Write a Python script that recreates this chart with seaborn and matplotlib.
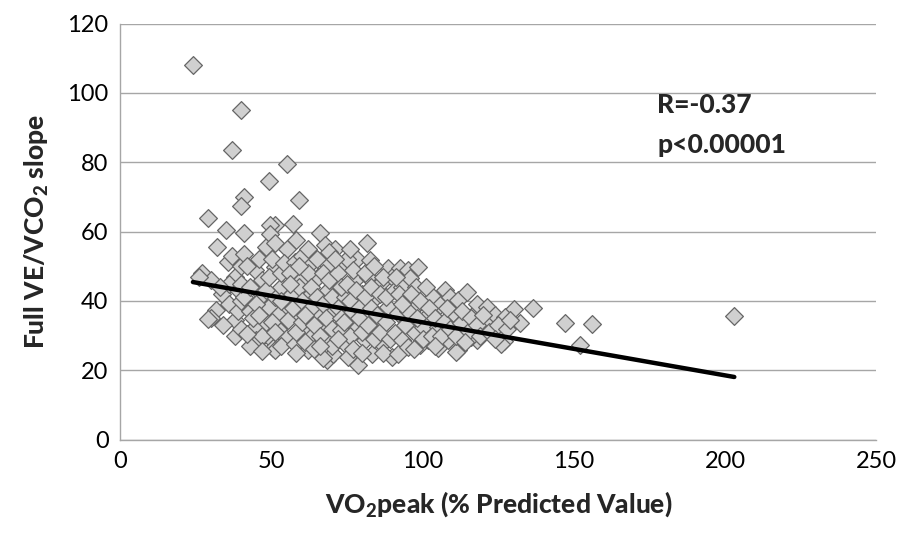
import numpy as np
import pandas as pd
import matplotlib
matplotlib.use("Agg")
import matplotlib.pyplot as plt
import seaborn as sns

# values
vo2_peak = [
    24, 40, 37, 55, 49, 41, 40, 59, 29, 57, 51, 35, 41, 66, 58, 81.5, 32, 203, 147, 156,
    152, 136.5, 130, 132, 127, 126, 123.5, 117.8,
    27, 30, 26, 31.5, 30, 29, 33.5, 35.5, 36, 38, 38, 38, 36, 33, 37, 40, 39, 34, 39, 40, 40,
    41, 41, 40, 43, 44.5, 44.5, 45, 45.5, 46.7, 46.7, 48, 49, 49.5, 49.5, 50, 50.5, 51, 51,
    51, 51, 53, 54.4, 54.4, 42, 43, 44, 46, 47, 48, 48, 49, 50, 52, 52, 53, 53, 55, 54, 43,
    47, 42, 45, 50, 51, 46, 53,
    55.5, 56.6, 57.7, 57.7, 58.8, 59.9, 61, 62, 62, 63.2, 63.2, 65.4, 65.4, 67.6, 67.6, 68.2,
    68.7, 68.7, 68.7, 70.9, 70.9, 70.9, 70.4, 67, 56, 57, 58, 59, 60, 60, 60, 61, 62, 63, 63,
    64, 64, 65, 65, 66, 67, 67, 68, 69, 69, 70, 70, 70, 56, 58, 62, 66, 59, 61,
    74.2, 74.2, 74.2, 73.1, 75.3, 76.5, 77.5, 78.1, 78.6, 78.6, 79.8, 80.8, 81.9, 81.9, 82.5,
    83.1, 84.2, 85.3, 86.4, 86.4, 88.6, 88.6, 89.7, 89.7, 72, 72, 73, 73, 75, 75, 76, 76, 77,
    77, 78, 79, 79, 80, 80, 81, 81, 82, 83, 83, 84, 84, 85, 86, 86, 87, 87, 88, 88, 89, 71,
    72, 74, 76,
    90.8, 90.8, 92.4, 93, 91.9, 93, 91.9, 94, 95.2, 95.7, 95.2, 96.3, 97.4, 97.9, 97.4, 98.5,
    99, 100, 101.8, 101.8, 103.4, 105.1, 105.1, 105.6, 107.3, 108.4, 109, 110, 92, 94, 95, 96,
    98, 99, 100, 102, 103, 104, 106, 107, 108, 109, 91, 93, 97, 101, 104,
    111.7, 111.7, 112.8, 114.5, 116.1, 117.2, 117.8, 120, 121.6, 121.1, 123.8, 123.8, 127.2,
    111, 113, 115, 116, 118, 119, 122, 125, 128, 111, 114, 120, 124, 129,
]
ve_vco2_slope = [
    108, 95, 83.5, 79.5, 74.5, 70, 67.5, 69, 64, 62.3, 62, 60.4, 59.5, 59.5, 57.7, 56.6, 55.5,
    35.7, 33.6, 33.3, 27.2, 37.9, 37.8, 33.5, 28.5, 27.7, 29.6, 28.7,
    48, 46, 47, 37.5, 35, 34.8, 42, 51.3, 39, 34.5, 30, 47, 45, 44, 53, 50, 43, 33, 37, 40, 32,
    53.5, 41, 45, 37, 48.9, 32.5, 28.7, 28.5, 46, 41.6, 55.5, 38.3, 61.8, 59.4, 28.7, 26.3,
    56.6, 49.8, 41.2, 25.8, 44, 37.3, 29.6, 50, 44, 35, 52, 30, 43, 34, 47, 52, 36, 32, 48,
    40, 55, 51, 27, 25.5, 30.5, 39, 34, 31, 36, 27,
    34.4, 42, 51.3, 27.7, 36.4, 46, 31.5, 41.2, 25.8, 50.8, 29.6, 46.9, 36.4, 56, 32.5, 23,
    50.3, 43, 28.7, 55, 45, 37.3, 24.8, 23.4, 48, 38, 31, 44, 53, 40, 34, 28, 48, 44, 38,
    33, 26, 52, 41, 30, 48, 39, 35, 54, 46, 41, 32, 27, 45, 25, 55, 27, 50, 36,
    50.3, 41.2, 27.7, 31.5, 23.8, 36.8, 46, 52.2, 32.5, 21.5, 42.1, 28.7, 46.9, 36.4, 51.7,
    24.8, 40.7, 32.5, 45.5, 27.7, 49.4, 38.3, 46.9, 23.8, 48, 38, 44, 35, 52, 45, 40, 30, 26,
    49, 43, 38, 35, 31, 25, 48, 41, 33, 44, 38, 29, 50, 36, 42, 31, 25, 47, 34, 41, 29, 52,
    29, 34, 55,
    43, 30.6, 49.4, 44, 36.4, 28.7, 24.8, 40.2, 48.9, 46.5, 26.7, 34.4, 38.3, 44, 30.6, 49.8,
    27.2, 32.5, 35.9, 28.7, 41.2, 32.5, 26.3, 38.8, 43, 28.7, 41.2, 36.4, 42, 33, 37, 42,
    35, 40, 29, 38, 30, 35, 30, 34, 38, 32, 47, 39, 26, 44, 27,
    40.2, 25.8, 33.5, 42.6, 29.6, 36.4, 39.2, 32.5, 34.4, 38.3, 35.9, 30.6, 35.4,
    25.3, 37, 31, 35, 33, 30, 31, 33, 32, 30, 28, 36, 29, 34.5,
]

# regression line
fit_intercept = 49.1
fit_slope = -0.153
r_text = "R=-0.37"
p_text = "p<0.00001"

x_ticks = [0, 50, 100, 150, 200, 250]
y_ticks = [0, 20, 40, 60, 80, 100, 120]

df = pd.DataFrame({"vo2": vo2_peak, "slope": ve_vco2_slope})
fit_x = np.array([df["vo2"].min(), df["vo2"].max()])
fit_df = pd.DataFrame({"vo2": fit_x, "slope": fit_intercept + fit_slope * fit_x})

sns.set_style("white")
plt.rcParams["font.family"] = ["Lato", "DejaVu Sans"]
plt.rcParams["mathtext.fontset"] = "custom"
plt.rcParams["mathtext.rm"] = "Lato"
plt.rcParams["mathtext.bf"] = "Lato:black"

fig = plt.figure(figsize=(8.98, 5.36), dpi=100)
ax = fig.add_axes([0.134, 0.18, 0.842, 0.776])

ax.yaxis.grid(True, color="#a6a6a6", linewidth=1.0)
ax.set_axisbelow(True)

sns.scatterplot(data=df, x="vo2", y="slope", ax=ax, marker="D", s=82,
                color="#d0d0d0", edgecolor="#666666", linewidth=0.9, zorder=2)
sns.lineplot(data=fit_df, x="vo2", y="slope", ax=ax, color="black",
             linewidth=3.2, zorder=3)

ax.set_xlim(0, 250)
ax.set_ylim(0, 120)
ax.set_xticks(x_ticks)
ax.set_yticks(y_ticks)
ax.tick_params(axis="both", labelsize=17, colors="#a6a6a6", labelcolor="black",
               length=5, width=1, direction="out")

for side in ["top", "right"]:
    ax.spines[side].set_visible(False)
for side in ["left", "bottom"]:
    ax.spines[side].set_color("#a6a6a6")
    ax.spines[side].set_linewidth(1.0)

ax.set_xlabel(r"VO$_\mathbf{2}$peak (% Predicted Value)", fontsize=19,
              fontweight="black", labelpad=12)
ax.set_ylabel(r"Full VE/VCO$_\mathbf{2}$ slope", fontsize=19,
              fontweight="black", labelpad=12)

ax.text(177.5, 96.5, r_text, fontsize=19, fontweight="black", va="center")
ax.text(177.5, 85, p_text, fontsize=19, fontweight="black", va="center")

fig.savefig("out.png", dpi=100)
